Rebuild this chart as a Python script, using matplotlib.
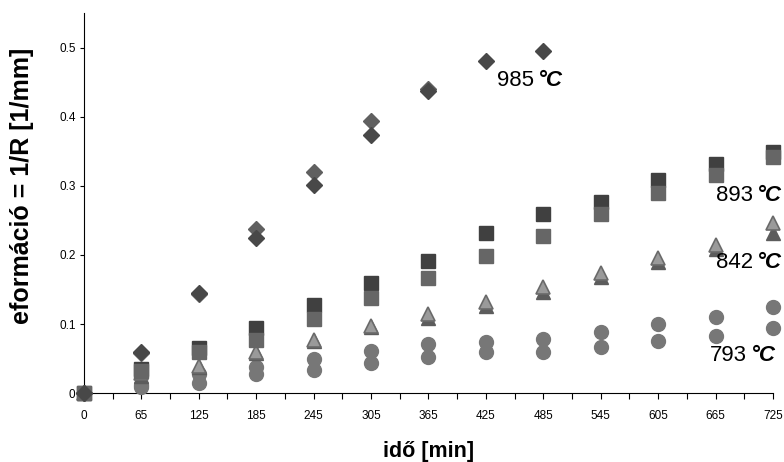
import numpy as np
import matplotlib.pyplot as plt

plt.rcParams['font.family'] = ['Liberation Sans', 'DejaVu Sans']

times = ['0', '65', '125', '185', '245', '305', '365', '425', '485', '545', '605', '665', '725']

# 985 °C
d985_a = [0, 0.060, 0.145, 0.224, 0.301, 0.373, 0.437, 0.481, 0.495]
d985_b = [0, 0.058, 0.144, 0.237, 0.320, 0.393, 0.440]
# 893 °C
s893_a = [0, 0.035, 0.066, 0.094, 0.127, 0.159, 0.191, 0.231, 0.259, 0.276, 0.308, 0.331, 0.349]
s893_b = [0, 0.032, 0.060, 0.077, 0.107, 0.138, 0.166, 0.198, 0.227, 0.259, 0.289, 0.316, 0.341]
# 842 °C
t842_a = [0, 0.025, 0.038, 0.058, 0.076, 0.096, 0.108, 0.126, 0.146, 0.168, 0.190, 0.209, 0.231]
t842_b = [0, 0.029, 0.040, 0.060, 0.077, 0.097, 0.115, 0.132, 0.153, 0.174, 0.195, 0.215, 0.246]
# 793 °C
c793_a = [0, 0.012, 0.028, 0.038, 0.050, 0.061, 0.071, 0.074, 0.079, 0.089, 0.100, 0.110, 0.124]
c793_b = [0, 0.009, 0.015, 0.027, 0.034, 0.044, 0.053, 0.060, 0.060, 0.067, 0.075, 0.082, 0.094]

fig = plt.figure(figsize=(7.84, 4.62), dpi=100)
ax = fig.add_axes([0.107, 0.149, 0.879, 0.823])

x = np.arange(len(times))

ax.plot(x, c793_a, 'o', color='#777777', ms=10, mec='#777777', clip_on=False, zorder=3)
ax.plot(x, c793_b, 'o', color='#777777', ms=10, mec='#777777', clip_on=False, zorder=3)
ax.plot(x, t842_a, '^', color='#5c5c5c', ms=10, mec='#5c5c5c', clip_on=False, zorder=4)
ax.plot(x, t842_b, '^', color='#9a9a9a', ms=10, mec='#6a6a6a', mew=1.2, clip_on=False, zorder=4)
ax.plot(x, s893_a, 's', color='#404040', ms=10, mec='#404040', clip_on=False, zorder=5)
ax.plot(x, s893_b, 's', color='#666666', ms=10, mec='#666666', clip_on=False, zorder=5)
ax.plot(x[:len(d985_b)], d985_b, 'D', color='#606060', ms=8, mec='#606060', clip_on=False, zorder=6)
ax.plot(x[:len(d985_a)], d985_a, 'D', color='#484848', ms=8, mec='#484848', clip_on=False, zorder=6)

ax.set_xlim(0, 12)
ax.set_ylim(0, 0.55)
ax.set_xticks(x)
ax.set_xticklabels(times, fontsize=8.5)
ax.set_xticks(x[:-1] + 0.5, minor=True)
ax.set_yticks([0, 0.1, 0.2, 0.3, 0.4, 0.5])
ax.set_yticklabels(['0', '0.1', '0.2', '0.3', '0.4', '0.5'], fontsize=8.5)
ax.tick_params(axis='x', which='both', direction='out', length=4, width=0.8, pad=8)
ax.tick_params(axis='y', direction='out', length=3, width=0.8, pad=3)
ax.spines['top'].set_visible(False)
ax.spines['right'].set_visible(False)

ax.set_xlabel('idő [min]', fontsize=15.5, fontweight='bold', labelpad=14)
ax.set_ylabel('eformáció = 1/R [1/mm]', fontsize=18, fontweight='bold')
ax.yaxis.set_label_coords(-0.072, 0.545)

labels = [('985', 7.19, 0.452), ('893', 11.0, 0.286), ('842', 11.0, 0.189), ('793', 10.9, 0.055)]
for num, lx, ly in labels:
    t = ax.text(lx, ly, num, fontsize=16, ha='left', va='center', zorder=7)
    ax.annotate('°C', xy=(1, 0.5), xycoords=t, xytext=(3, 0), textcoords='offset points',
                fontsize=16, fontweight='bold', fontstyle='italic', va='center', ha='left',
                annotation_clip=False, zorder=7)

fig.savefig('out.png', dpi=100)
